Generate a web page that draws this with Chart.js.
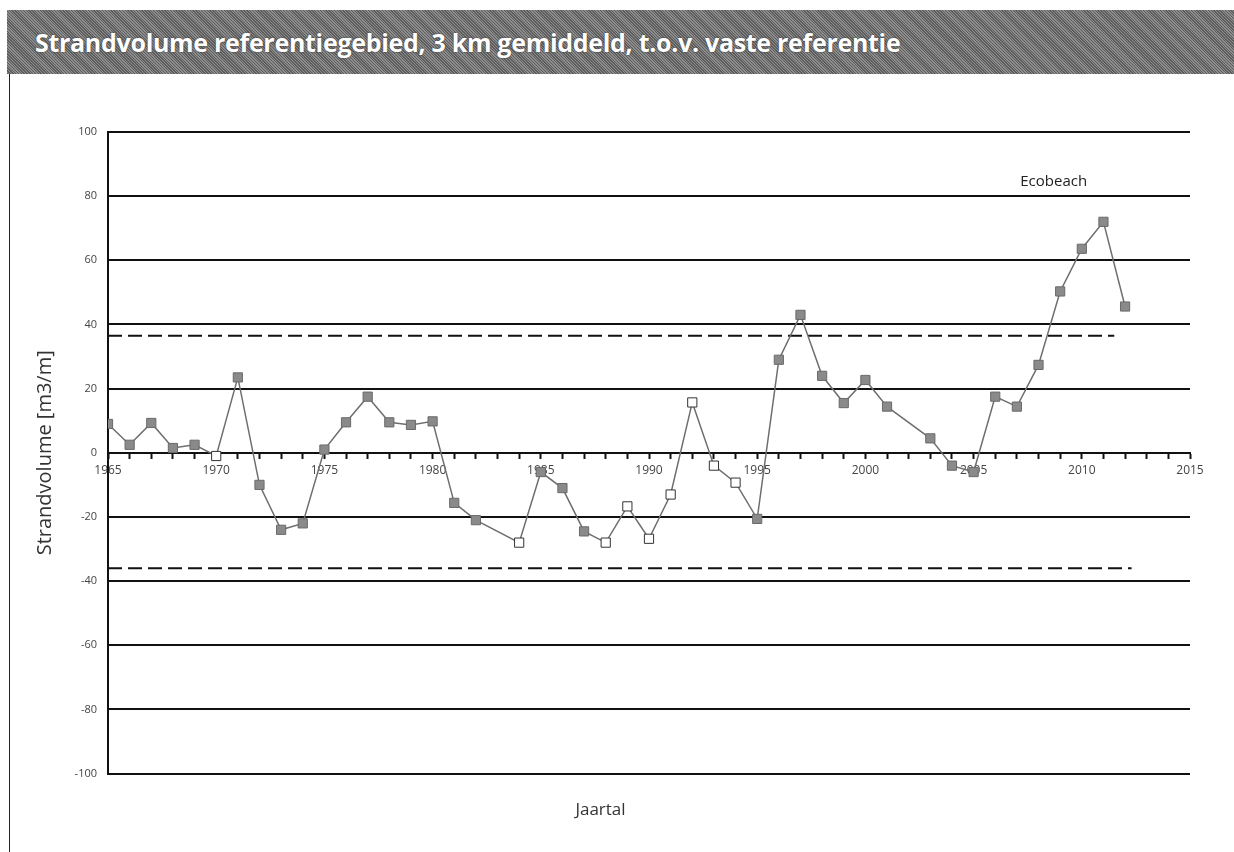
<!DOCTYPE html>
<html>
<head>
<meta charset="utf-8">
<script src="https://cdn.jsdelivr.net/npm/chart.js@4/dist/chart.umd.min.js"></script>
<style>
  body { margin: 0; background: #fff; width: 1234px; height: 852px; overflow: hidden; position: relative; }
  .header {
    position: absolute; left: 7px; top: 10px; width: 1227px; height: 64px;
    background: repeating-linear-gradient(45deg, #5e5e5e 0 1px, #8c8c8c 1px 2px);
    color: #fff; font-family: 'Open Sans', sans-serif; font-weight: 700; font-size: 25px;
    letter-spacing: -0.3px;
    line-height: 64px; padding-left: 28px; box-sizing: border-box;
    text-shadow: 0 0 2px #333;
  }
  .frame { position: absolute; left: 9px; top: 74px; width: 1px; height: 778px; background: #222; }
  #chart { position: absolute; left: 11px; top: 74px; }
</style>
</head>
<body>
<div class="header">Strandvolume referentiegebied, 3 km gemiddeld, t.o.v. vaste referentie</div>
<div class="frame"></div>
<canvas id="chart" width="1223" height="778"></canvas>
<script>
// jaren en strandvolume (m3/m)
const years = [1965, 1966, 1967, 1968, 1969, 1970, 1971, 1972, 1973, 1974, 1975, 1976, 1977, 1978, 1979, 1980, 1981, 1982,
    1984, 1985, 1986, 1987, 1988, 1989, 1990, 1991, 1992, 1993, 1994, 1995, 1996, 1997, 1998, 1999, 2000, 2001,
    2003, 2004, 2005, 2006, 2007, 2008, 2009, 2010, 2011, 2012];
const volumes = [9, 2.5, 9.3, 1.5, 2.5, -1, 23.5, -10, -24, -22, 1, 9.5, 17.5, 9.5, 8.7, 9.8, -15.6, -21,
    -28, -6, -11, -24.5, -28, -16.7, -26.8, -13, 15.7, -4, -9.3, -20.6, 29, 43, 24, 15.5, 22.7, 14.4,
    4.5, -4, -6, 17.5, 14.4, 27.4, 50.3, 63.6, 72, 45.6];
// jaren met open markers
const openYears = [1970, 1984, 1988, 1989, 1990, 1991, 1992, 1993, 1994];

// grenzen (gestippeld)
const upperLimitX = [1965, 2011.5];
const upperLimit = 36.5;
const lowerLimitX = [1965, 2012.3];
const lowerLimit = -36;

const yTicks = [-100, -80, -60, -40, -20, 0, 20, 40, 60, 80, 100];
const xLabelYears = [1965, 1970, 1975, 1980, 1985, 1990, 1995, 2000, 2005, 2010, 2015];

const annotation = { text: 'Ecobeach', x: 2008.7, y: 84.5 };

const points = years.map((yr, i) => ({ x: yr, y: volumes[i] }));
const isOpen = years.map(yr => openYears.includes(yr));

// tekst 'Ecobeach' bij de grafiek
const labelPlugin = {
    id: 'ecobeach',
    afterDatasetsDraw(chart) {
        const ctx = chart.ctx;
        const xs = chart.scales.x, ys = chart.scales.y;
        ctx.save();
        ctx.font = "15px 'Open Sans'";
        ctx.fillStyle = '#222';
        ctx.textAlign = 'center';
        ctx.textBaseline = 'middle';
        ctx.fillText(annotation.text, xs.getPixelForValue(annotation.x), ys.getPixelForValue(annotation.y));
        ctx.restore();
    }
};

const ctx = document.getElementById('chart').getContext('2d');
const chart = new Chart(ctx, {
    type: 'line',
    data: {
        datasets: [{
            data: points,
            borderColor: '#6e6e6e',
            borderWidth: 1.5,
            tension: 0,
            pointStyle: 'rect',
            pointRadius: 6.5,
            pointBackgroundColor: isOpen.map(o => o ? '#ffffff' : '#8a8a8a'),
            pointBorderColor: isOpen.map(o => o ? '#333333' : '#6a6a6a'),
            pointBorderWidth: 1
        }, {
            data: upperLimitX.map(x => ({ x: x, y: upperLimit })),
            borderColor: '#111',
            borderWidth: 2,
            borderDash: [14, 6],
            pointRadius: 0
        }, {
            data: lowerLimitX.map(x => ({ x: x, y: lowerLimit })),
            borderColor: '#111',
            borderWidth: 2,
            borderDash: [14, 6],
            pointRadius: 0
        }]
    },
    plugins: [labelPlugin],
    options: {
        responsive: false,
        animation: false,
        devicePixelRatio: 1,
        layout: { padding: { top: 58, right: 44, left: 0, bottom: 0 } },
        plugins: {
            legend: { display: false },
            tooltip: { enabled: false },
            title: {
                display: true,
                position: 'bottom',
                text: 'Jaartal',
                color: '#333',
                font: { family: 'Open Sans', size: 17, weight: '400' },
                padding: { top: 26, bottom: 32 }
            }
        },
        scales: {
            x: {
                type: 'linear',
                position: { y: 0 },
                min: 1965,
                max: 2015,
                grid: { drawOnChartArea: false, drawTicks: true, tickLength: 5, color: '#111', tickWidth: 2 },
                border: { display: true, color: '#111', width: 2 },
                ticks: {
                    stepSize: 1,
                    autoSkip: false,
                    maxRotation: 0,
                    padding: 6,
                    color: '#444',
                    font: { family: 'Open Sans', size: 12 },
                    callback: v => xLabelYears.includes(v) ? String(v) : ''
                }
            },
            y: {
                min: -100,
                max: 100,
                afterFit: scale => { scale.width = 97; },
                afterBuildTicks: scale => { scale.ticks = yTicks.map(v => ({ value: v })); },
                grid: { color: '#111', lineWidth: 2, drawTicks: false },
                border: { display: true, color: '#111', width: 2 },
                ticks: {
                    padding: 11,
                    color: '#444',
                    font: { family: 'Open Sans', size: 11 }
                },
                title: {
                    display: true,
                    text: 'Strandvolume [m3/m]',
                    color: '#333',
                    font: { family: 'Open Sans', size: 20, weight: '400' },
                    padding: { top: 22, bottom: 0 }
                }
            }
        }
    }
});
</script>
</body>
</html>
